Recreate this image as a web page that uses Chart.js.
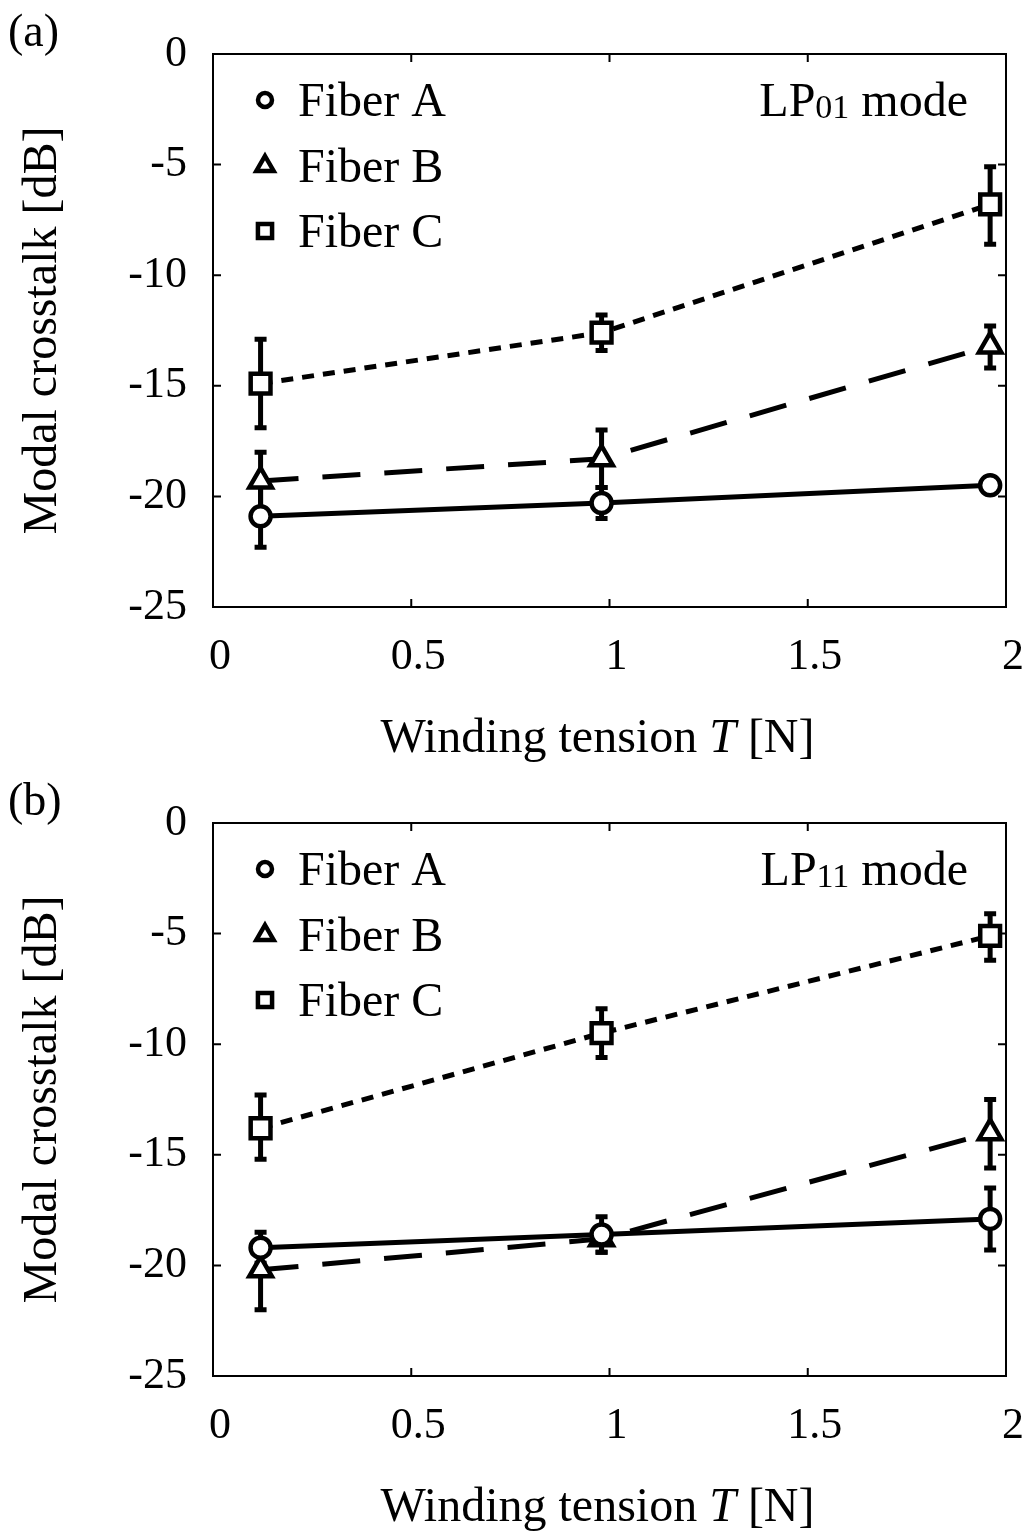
<!DOCTYPE html>
<html>
<head>
<meta charset="utf-8">
<script src="https://cdn.jsdelivr.net/npm/chart.js@4.4.1/dist/chart.umd.min.js"></script>
<style>
  html, body { margin: 0; padding: 0; background: #fff; }
  canvas { display: block; }
</style>
</head>
<body>
<canvas id="chartA" width="1033" height="766"></canvas>
<canvas id="chartB" width="1033" height="767"></canvas>
<script>
// winding tension T [N]
const tension = [0.12, 0.98, 1.96];
const fiberNames = ["Fiber A", "Fiber B", "Fiber C"];
const xTicks = [0, 0.5, 1, 1.5, 2];
const yTicks = [0, -5, -10, -15, -20, -25];

// (a) LP01 mode
const lp01A = [-20.9, -20.3, -19.5];
const lp01ALow = [-22.3, -21.0, -19.8];
const lp01AHigh = [-19.5, -19.6, -19.2];
const lp01B = [-19.3, -18.3, -13.2];
const lp01BLow = [-20.6, -19.6, -14.2];
const lp01BHigh = [-18.0, -17.0, -12.3];
const lp01C = [-14.9, -12.6, -6.8];
const lp01CLow = [-16.9, -13.4, -8.6];
const lp01CHigh = [-12.9, -11.8, -5.1];

// (b) LP11 mode
const lp11A = [-19.2, -18.6, -17.9];
const lp11ALow = [-19.9, -19.4, -19.3];
const lp11AHigh = [-18.5, -17.8, -16.5];
const lp11B = [-20.2, -18.8, -14.0];
const lp11BLow = [-22.0, -19.4, -15.6];
const lp11BHigh = [-19.1, -18.3, -12.5];
const lp11C = [-13.8, -9.5, -5.1];
const lp11CLow = [-15.2, -10.6, -6.2];
const lp11CHigh = [-12.3, -8.4, -4.1];

const FONT = '"Liberation Serif", "Times New Roman", serif';

const styles = [
  { pointStyle: "circle", radius: 10, dash: [], legendR: 7 },
  { pointStyle: "triangle", radius: 13, dash: [38, 24], legendR: 10 },
  { pointStyle: "rect", radius: 14, dash: [12, 9], legendR: 10 },
];

function toPoints(vals) {
  return vals.map((v, i) => ({ x: tension[i], y: v }));
}

// box, inward ticks and error bars (drawn under the markers)
const framePlugin = {
  id: "frame",
  beforeDatasetsDraw(chart) {
    const { ctx, chartArea: a, scales } = chart;
    const xs = scales.x, ys = scales.y;
    ctx.save();
    ctx.strokeStyle = "#000";
    ctx.lineWidth = 2;
    ctx.strokeRect(a.left, a.top, a.right - a.left, a.bottom - a.top);
    ctx.beginPath();
    yTicks.forEach((t) => {
      const y = ys.getPixelForValue(t);
      ctx.moveTo(a.left, y); ctx.lineTo(a.left + 8, y);
      ctx.moveTo(a.right, y); ctx.lineTo(a.right - 8, y);
    });
    xTicks.forEach((t) => {
      const x = xs.getPixelForValue(t);
      ctx.moveTo(x, a.bottom); ctx.lineTo(x, a.bottom - 8);
      ctx.moveTo(x, a.top); ctx.lineTo(x, a.top + 8);
    });
    ctx.stroke();

    // error bars
    const errs = chart.options.plugins.frame.errors;
    ctx.lineWidth = 5;
    errs.forEach((e) => {
      e.low.forEach((lo, i) => {
        const x = xs.getPixelForValue(tension[i]);
        const y1 = ys.getPixelForValue(lo);
        const y2 = ys.getPixelForValue(e.high[i]);
        ctx.beginPath();
        ctx.moveTo(x, y1); ctx.lineTo(x, y2);
        ctx.moveTo(x - 6, y1); ctx.lineTo(x + 6, y1);
        ctx.moveTo(x - 6, y2); ctx.lineTo(x + 6, y2);
        ctx.stroke();
      });
    });
    ctx.restore();
  },
  afterDraw(chart) {
    const { ctx, chartArea: a } = chart;
    const opts = chart.options.plugins.frame;
    ctx.save();
    ctx.fillStyle = "#000";
    ctx.strokeStyle = "#000";
    ctx.textBaseline = "alphabetic";

    // panel label
    ctx.font = "46px " + FONT;
    ctx.textAlign = "left";
    ctx.fillText(opts.panel, 8, a.top - 8);

    // legend
    const rows = [46, 112, 177];
    chart.data.datasets.forEach((ds, i) => {
      const cy = a.top + rows[i];
      const cx = a.left + 52;
      const st = styles[i];
      ctx.lineWidth = 4.5;
      ctx.fillStyle = "#fff";
      ctx.beginPath();
      if (st.pointStyle === "circle") {
        ctx.arc(cx, cy, st.legendR, 0, Math.PI * 2);
      } else if (st.pointStyle === "triangle") {
        const r = st.legendR;
        ctx.moveTo(cx, cy - r);
        ctx.lineTo(cx + r * 0.866, cy + r * 0.5);
        ctx.lineTo(cx - r * 0.866, cy + r * 0.5);
        ctx.closePath();
      } else {
        const r = st.legendR * Math.SQRT1_2;
        ctx.rect(cx - r, cy - r, 2 * r, 2 * r);
      }
      ctx.fill();
      ctx.stroke();
      ctx.fillStyle = "#000";
      ctx.font = "48px " + FONT;
      ctx.fillText(ds.label, a.left + 85, cy + 16);
    });

    // mode label with subscript
    ctx.font = "48px " + FONT;
    const main = "LP", rest = " mode";
    const wMain = ctx.measureText(main).width;
    const wRest = ctx.measureText(rest).width;
    ctx.font = "34px " + FONT;
    const wSub = ctx.measureText(opts.sub).width;
    let x = a.right - 38 - (wMain + wSub + wRest);
    const base = a.top + 62;
    ctx.font = "48px " + FONT;
    ctx.fillText(main, x, base);
    x += wMain;
    ctx.font = "34px " + FONT;
    ctx.fillText(opts.sub, x, base + 2);
    x += wSub;
    ctx.font = "48px " + FONT;
    ctx.fillText(rest, x, base);

    // x-axis title with italic T
    const p1 = "Winding tension ", p2 = "T", p3 = " [N]";
    ctx.font = "48px " + FONT;
    const w1 = ctx.measureText(p1).width, w3 = ctx.measureText(p3).width;
    ctx.font = "italic 48px " + FONT;
    const w2 = ctx.measureText(p2).width;
    let tx = (a.left + a.right) / 2 - 12 - (w1 + w2 + w3) / 2;
    const ty = a.bottom + 145;
    ctx.font = "48px " + FONT;
    ctx.fillText(p1, tx, ty);
    tx += w1;
    ctx.font = "italic 48px " + FONT;
    ctx.fillText(p2, tx, ty);
    tx += w2;
    ctx.font = "48px " + FONT;
    ctx.fillText(p3, tx, ty);
    ctx.restore();
  },
};

function makeChart(id, panel, sub, series, topPad, xHeight) {
  const datasets = series.map((s, i) => ({
    label: fiberNames[i],
    data: toPoints(s.vals),
    borderColor: "#000",
    backgroundColor: "#fff",
    borderWidth: 5,
    borderDash: styles[i].dash,
    pointStyle: styles[i].pointStyle,
    pointRadius: styles[i].radius,
    pointBorderWidth: 4.5,
    pointBackgroundColor: "#fff",
    pointBorderColor: "#000",
    tension: 0,
    clip: false,
  }));
  return new Chart(document.getElementById(id), {
    type: "line",
    data: { datasets },
    options: {
      responsive: false,
      animation: false,
      events: [],
      layout: { padding: { top: topPad, right: 27, left: 0, bottom: 0 } },
      plugins: {
        legend: { display: false },
        tooltip: { enabled: false },
        frame: {
          panel,
          sub,
          errors: series.map((s) => ({ low: s.low, high: s.high })),
        },
      },
      scales: {
        x: {
          type: "linear",
          min: 0,
          max: 2,
          ticks: {
            stepSize: 0.5,
            color: "#000",
            padding: 24,
            labelOffset: 7,
            maxRotation: 0,
            font: { family: FONT, size: 44 },
            callback: (v) => String(v),
          },
          grid: { display: false, drawTicks: false },
          border: { display: false },
          afterFit(scale) {
            scale.height = xHeight;
            scale.paddingLeft = 0;
            scale.paddingRight = 0;
          },
        },
        y: {
          min: -25,
          max: 0,
          ticks: {
            stepSize: 5,
            color: "#000",
            padding: 26,
            font: { family: FONT, size: 44 },
          },
          grid: { display: false, drawTicks: false },
          border: { display: false },
          title: {
            display: true,
            text: "Modal crosstalk [dB]",
            color: "#000",
            font: { family: FONT, size: 48 },
            padding: { top: 15, bottom: 0 },
          },
          afterFit(scale) {
            scale.width = 213;
            scale.paddingTop = 0;
            scale.paddingBottom = 0;
          },
        },
      },
    },
    plugins: [framePlugin],
  });
}

makeChart("chartA", "(a)", "01", [
  { vals: lp01A, low: lp01ALow, high: lp01AHigh },
  { vals: lp01B, low: lp01BLow, high: lp01BHigh },
  { vals: lp01C, low: lp01CLow, high: lp01CHigh },
], 54, 159);

makeChart("chartB", "(b)", "11", [
  { vals: lp11A, low: lp11ALow, high: lp11AHigh },
  { vals: lp11B, low: lp11BLow, high: lp11BHigh },
  { vals: lp11C, low: lp11CLow, high: lp11CHigh },
], 57, 157);
</script>
</body>
</html>
